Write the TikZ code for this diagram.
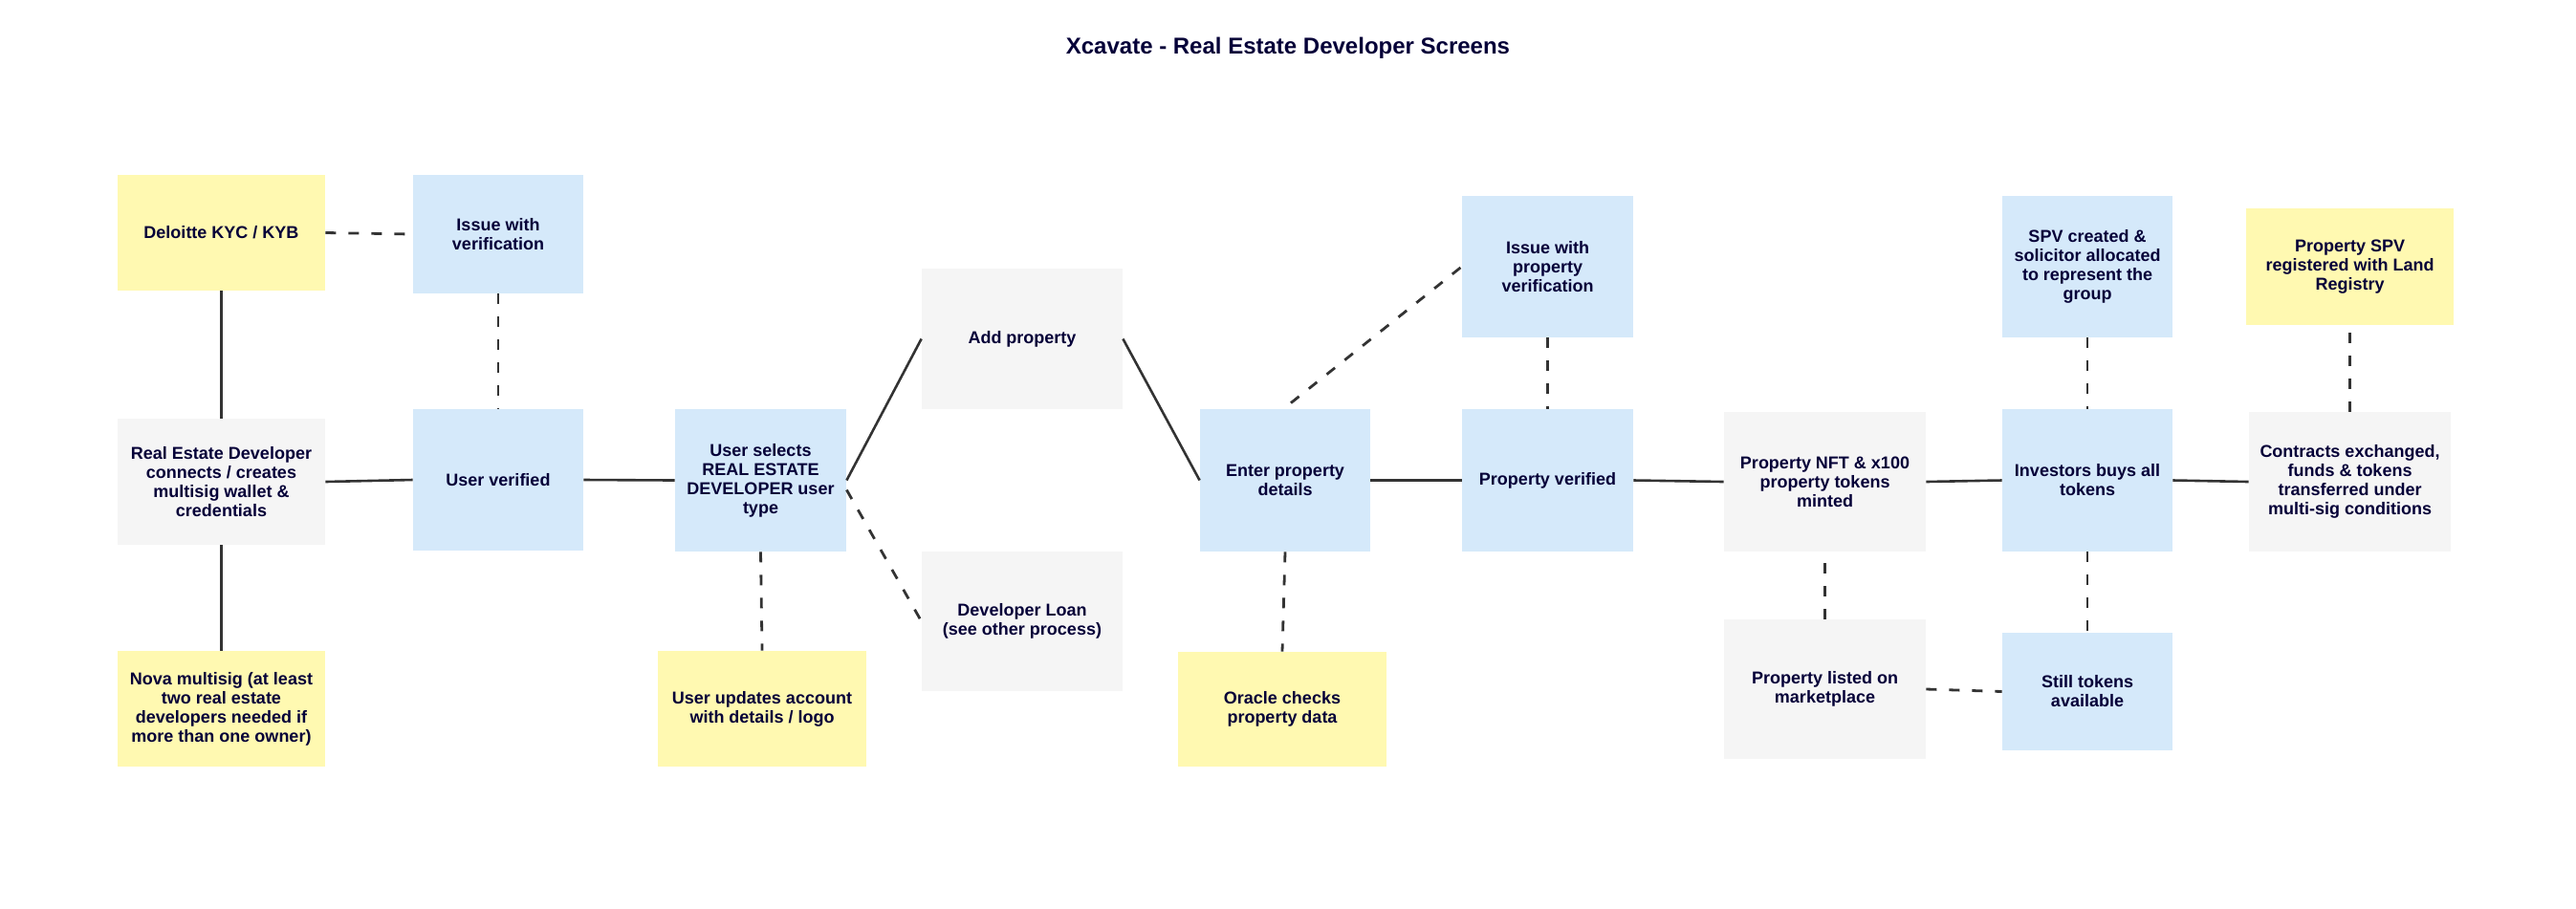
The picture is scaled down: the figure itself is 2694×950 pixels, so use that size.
\documentclass[tikz,border=0pt]{standalone}
\usepackage{fontspec}
\setmainfont{Liberation Sans}
\definecolor{txt}{HTML}{050038}
\definecolor{yel}{HTML}{FFF9B1}
\definecolor{blu}{HTML}{D5E9FA}
\definecolor{gry}{HTML}{F5F5F5}
\definecolor{ln}{HTML}{333333}
\tikzset{
  card/.style={inner sep=0pt, align=center, text=txt,
    font=\bfseries\fontsize{9}{10}\selectfont},
  yelbox/.style={card, fill=yel},
  blubox/.style={card, fill=blu},
  grybox/.style={card, fill=gry},
  sz/.style 2 args={minimum width=#1*0.5pt, minimum height=#2*0.5pt},
  solidln/.style={draw=ln, line width=1.3pt},
  dashln/.style={draw=ln, line width=1.4pt, dash pattern=on 5.5pt off 6.5pt},
}
\begin{document}
\begin{tikzpicture}[x=0.5pt, y=-0.5pt]
\useasboundingbox (0,0) rectangle (2694,950);
\node[text=txt, font=\bfseries\fontsize{12}{14}\selectfont] (title) at (1347,50) {Xcavate - Real Estate Developer Screens};

\node[yelbox, sz={217}{121}] (dk) at (231.5,243.5) {Deloitte KYC / KYB};
\node[blubox, sz={178}{124}] (iv) at (521,245) {Issue with\\verification};
\node[grybox, sz={217}{132}] (red) at (231.5,504) {Real Estate Developer\\connects / creates\\multisig wallet \&\\credentials};
\node[blubox, sz={178}{148}] (uv) at (521,502) {User verified};
\node[blubox, sz={179}{149}] (us) at (795.5,502.5) {User selects\\REAL ESTATE\\DEVELOPER user\\type};
\node[yelbox, sz={217}{121}] (nova) at (231.5,741.5) {Nova multisig (at least\\two real estate\\developers needed if\\more than one owner)};
\node[yelbox, sz={218}{121}] (uu) at (797,741.5) {User updates account\\with details / logo};
\node[grybox, sz={210}{147}] (ap) at (1069,354.5) {Add property};
\node[grybox, sz={210}{146}] (dl) at (1069,650) {Developer Loan\\(see other process)};
\node[blubox, sz={178}{149}] (ep) at (1344,502.5) {Enter property\\details};
\node[yelbox, sz={218}{120}] (oc) at (1341,742) {Oracle checks\\property data};
\node[blubox, sz={179}{148}] (ipv) at (1618.5,279) {Issue with\\property\\verification};
\node[blubox, sz={179}{149}] (pv) at (1618.5,502.5) {Property verified};
\node[grybox, sz={211}{146}] (nft) at (1908.5,504) {Property NFT \& x100\\property tokens\\minted};
\node[grybox, sz={211}{146}] (pl) at (1908.5,721) {Property listed on\\marketplace};
\node[blubox, sz={178}{148}] (spv) at (2183,279) {SPV created \&\\solicitor allocated\\to represent the\\group};
\node[blubox, sz={178}{149}] (inv) at (2183,502.5) {Investors buys all\\tokens};
\node[blubox, sz={178}{123}] (st) at (2183,723.5) {Still tokens\\available};
\node[yelbox, sz={217}{122}] (pspv) at (2457.5,279) {Property SPV\\registered with Land\\Registry};
\node[grybox, sz={211}{146}] (ct) at (2457.5,504) {Contracts exchanged,\\funds \& tokens\\transferred under\\multi-sig conditions};

% connectors
\draw[dashln] (dk.east) -- (iv.west);
\draw[solidln] (dk.south) -- (red.north);
\draw[solidln] (red.south) -- (nova.north);
\draw[solidln] (red.east) -- (uv.west);
\draw[dashln] (iv.south) -- (uv.north);
\draw[solidln] (uv.east) -- (us.west);
\draw[dashln] (us.south) -- (uu.north);
\draw[solidln] (us.east) -- (ap.west);
\draw[dashln] ([yshift=-5pt]us.east) -- (dl.west);
\draw[solidln] (ap.east) -- (ep.west);
\draw[dashln] ([xshift=3pt,yshift=3pt]ep.north) -- (ipv.west);
\draw[dashln] (ep.south) -- (oc.north);
\draw[solidln] (ep.east) -- (pv.west);
\draw[dashln] (ipv.south) -- (pv.north);
\draw[solidln] (pv.east) -- (nft.west);
\draw[dashln] (pl.north) -- (nft.south);
\draw[solidln] (nft.east) -- (inv.west);
\draw[dashln] (spv.south) -- (inv.north);
\draw[dashln] (inv.south) -- (st.north);
\draw[dashln] (pl.east) -- (st.west);
\draw[solidln] (inv.east) -- (ct.west);
\draw[dashln] (ct.north) -- (pspv.south);
\end{tikzpicture}
\end{document}
